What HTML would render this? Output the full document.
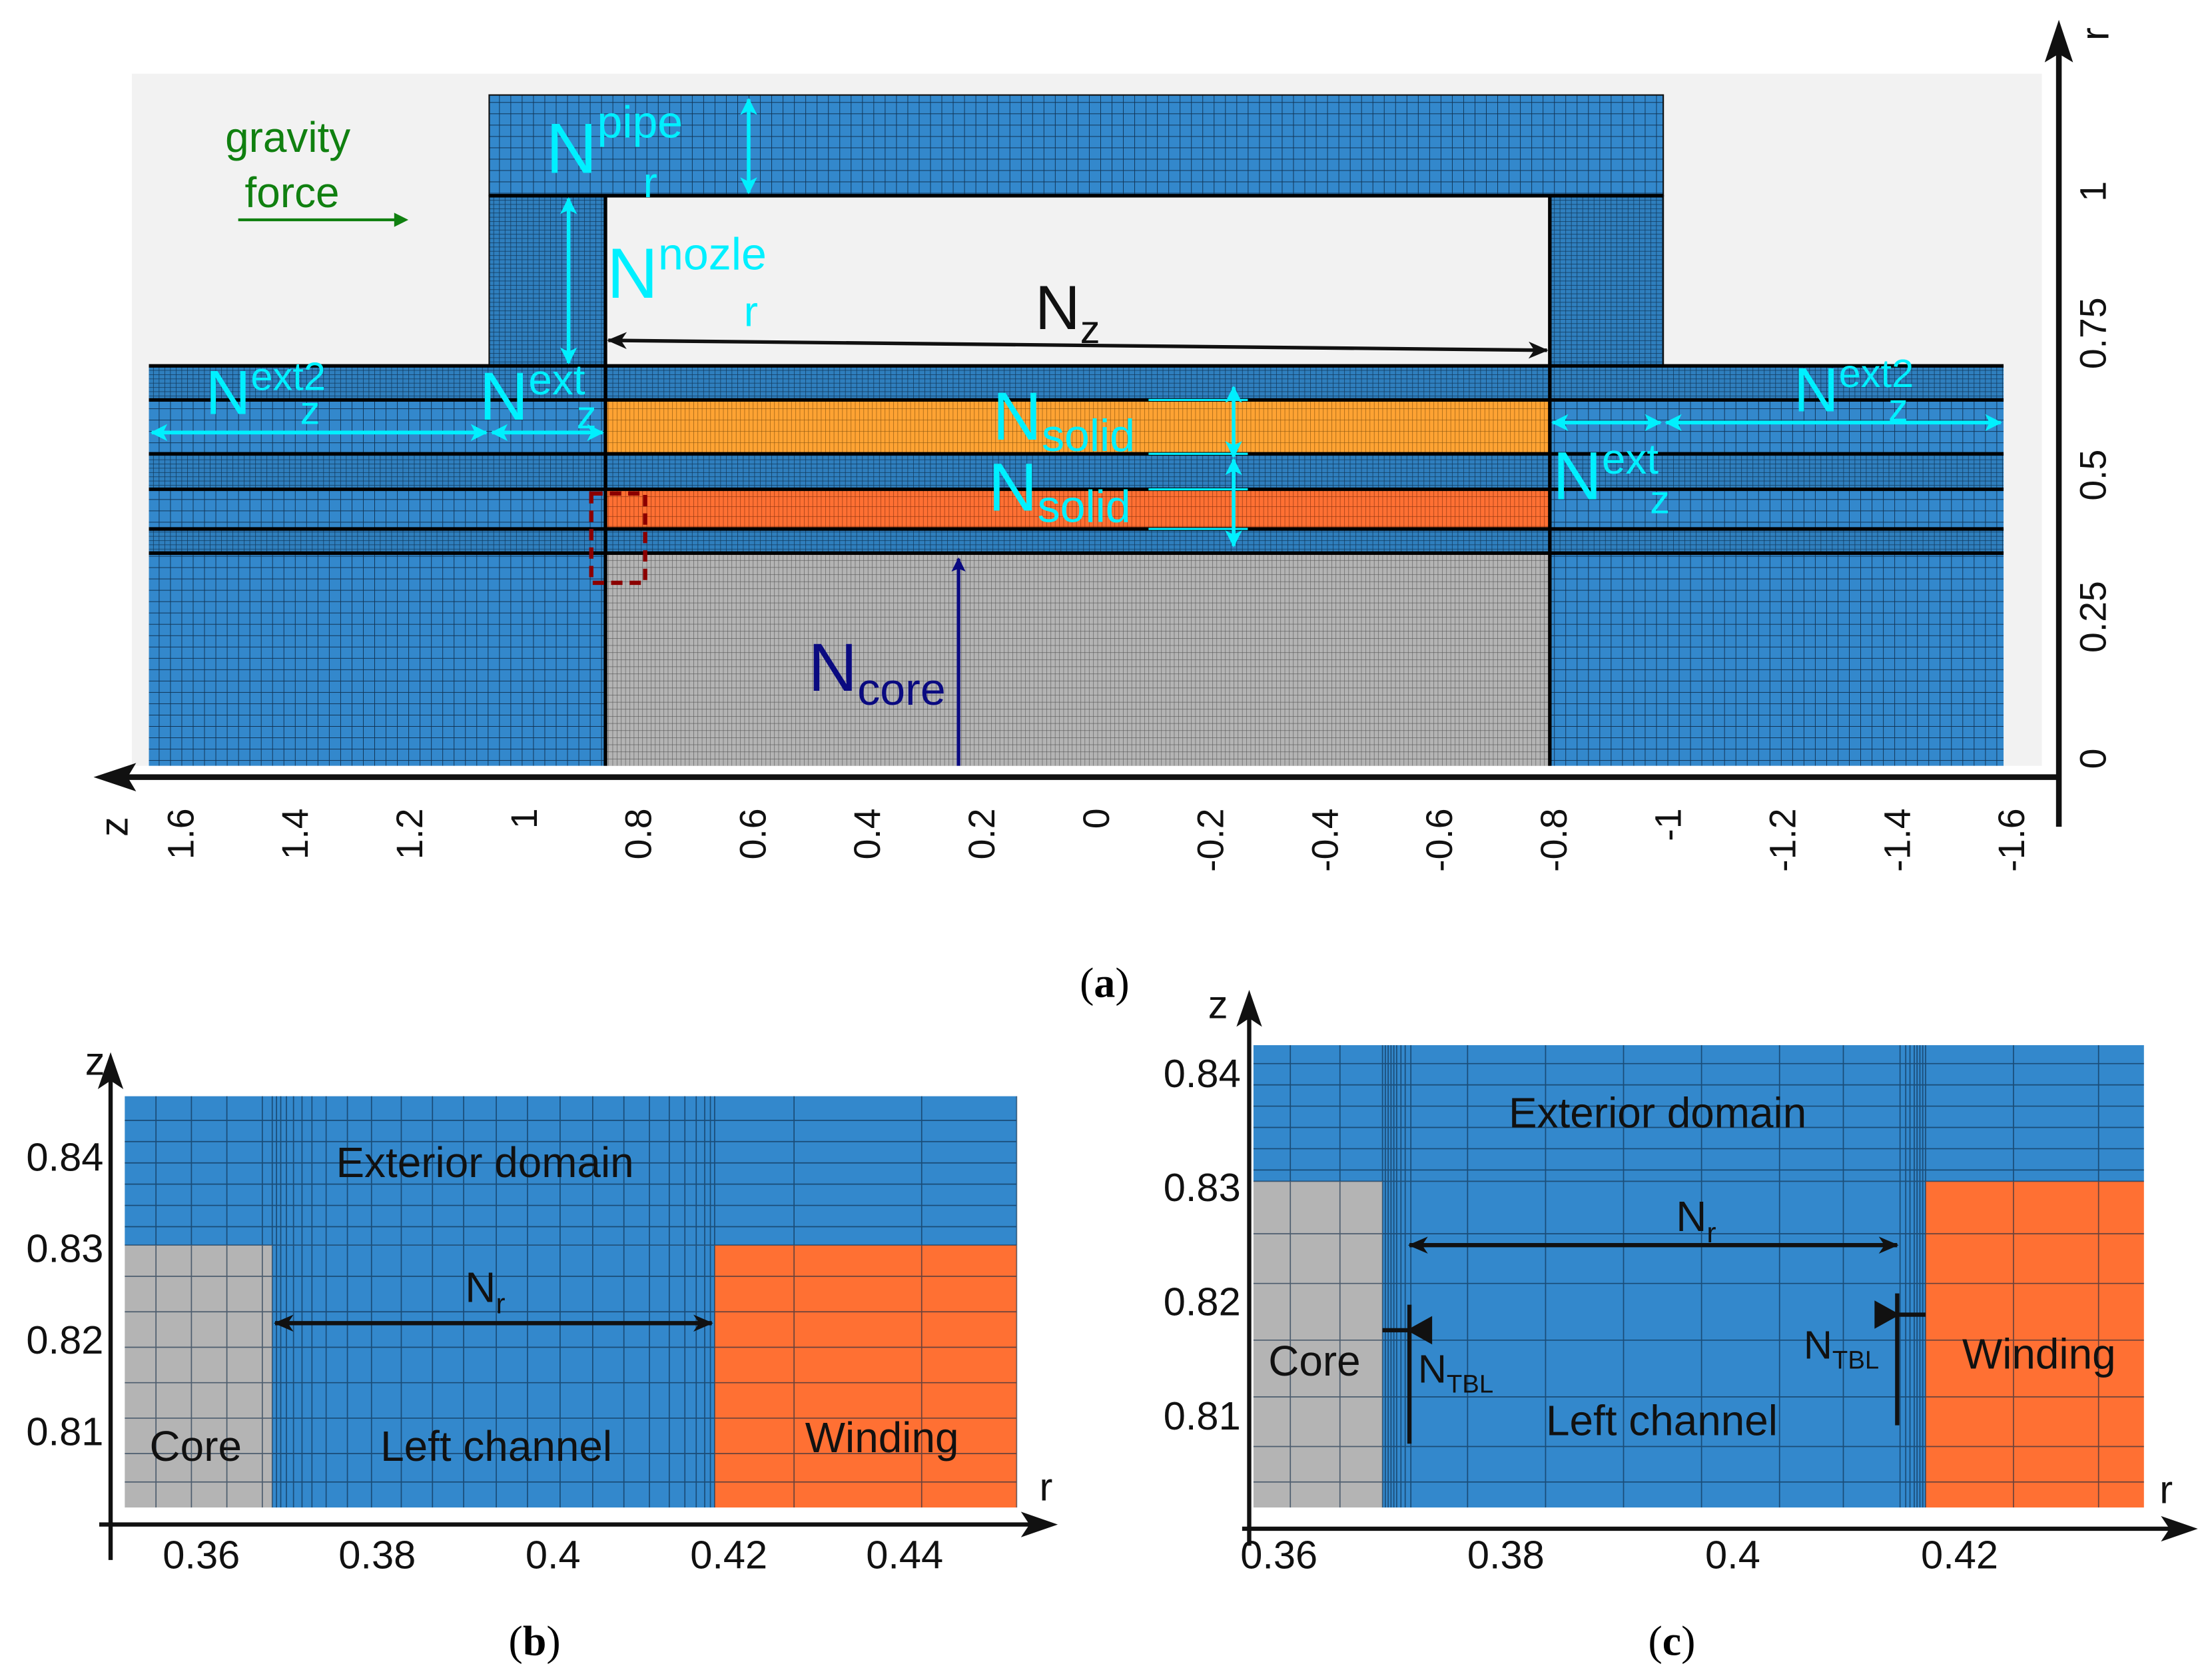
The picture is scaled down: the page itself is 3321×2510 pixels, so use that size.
<!DOCTYPE html>
<html><head><meta charset="utf-8"><style>
html,body{margin:0;padding:0;background:#fff;}
svg{display:block;font-family:"Liberation Sans","DejaVu Sans",sans-serif;}
</style></head><body>
<svg id="fig" width="3321" height="2510" viewBox="0 0 1560 1179" preserveAspectRatio="none" xmlns="http://www.w3.org/2000/svg">
<defs>
<pattern id="pBlue" width="8" height="8" patternUnits="userSpaceOnUse"><rect width="8" height="8" fill="#3388cc"/><path d="M0 0V8M0 0H8" stroke="#0a2540" stroke-width="0.9" opacity="0.85"/></pattern>
<pattern id="pBlueD" width="4" height="3" patternUnits="userSpaceOnUse"><rect width="4" height="3" fill="#2f7fbe"/><path d="M0 0V3M0 0H4" stroke="#0a2540" stroke-width="0.7" opacity="0.8"/></pattern>
<pattern id="pGrey" width="3" height="5" patternUnits="userSpaceOnUse"><rect width="3" height="5" fill="#b4b4b4"/><path d="M0 0V5M0 0H3" stroke="#333" stroke-width="0.55" opacity="0.75"/></pattern>
<pattern id="pOr" width="3" height="8" patternUnits="userSpaceOnUse"><rect width="3" height="8" fill="#ffa333"/><path d="M0 0V8M0 0H3" stroke="#553300" stroke-width="0.6" opacity="0.7"/></pattern>
<pattern id="pRed" width="3" height="7" patternUnits="userSpaceOnUse"><rect width="3" height="7" fill="#ff7033"/><path d="M0 0V7M0 0H3" stroke="#551800" stroke-width="0.6" opacity="0.7"/></pattern>
<marker id="ahc" markerWidth="12" markerHeight="12" refX="11" refY="6" orient="auto-start-reverse" markerUnits="userSpaceOnUse" viewBox="0 0 12 12"><path d="M0 0L12 6L0 12L3 6Z" fill="#00f0ff"/></marker>
<marker id="ahk" markerWidth="14" markerHeight="12" refX="13" refY="6" orient="auto-start-reverse" markerUnits="userSpaceOnUse" viewBox="0 0 14 12"><path d="M0 0L14 6L0 12L4 6Z" fill="#111"/></marker>
<marker id="ahn" markerWidth="10" markerHeight="14" refX="9" refY="5" orient="auto" markerUnits="userSpaceOnUse" viewBox="0 0 10 10"><path d="M0 0L10 5L0 10L2 5Z" fill="#0a0a80"/></marker>
</defs>

<!-- Panel (a) -->
<g>
<rect x="93" y="52" width="1347" height="488" fill="#f2f2f2"/>
<rect x="345" y="67" width="828" height="71" fill="url(#pBlue)" stroke="#111" stroke-width="1"/>
<rect x="345" y="138" width="82" height="120" fill="url(#pBlueD)" stroke="#111" stroke-width="1"/>
<rect x="1093" y="138" width="80" height="120" fill="url(#pBlueD)" stroke="#111" stroke-width="1"/>
<rect x="105" y="258" width="322" height="282" fill="url(#pBlue)"/>
<rect x="1093" y="258" width="320" height="282" fill="url(#pBlue)"/>
<rect x="105" y="258" width="1308" height="24" fill="url(#pBlueD)"/>
<rect x="105" y="320" width="1308" height="25" fill="url(#pBlueD)"/>
<rect x="105" y="373" width="1308" height="17" fill="url(#pBlueD)"/>
<rect x="427" y="282" width="666" height="38" fill="url(#pOr)"/>
<rect x="427" y="345" width="666" height="28" fill="url(#pRed)"/>
<rect x="427" y="390" width="666" height="150" fill="url(#pGrey)"/>
<g stroke="#000" stroke-width="2.5">
<path d="M105 258H1413M105 282H1413M105 320H1413M105 345H1413M105 373H1413M105 390H1413M427 138V540M1093 138V540M345 138H1173"/>
</g>
<rect x="417" y="348" width="38" height="63" fill="none" stroke="#8b0000" stroke-width="3" stroke-dasharray="8,5"/>

<text x="203" y="107" font-size="30" fill="#108010" text-anchor="middle">gravity</text>
<text x="206" y="146" font-size="30" fill="#108010" text-anchor="middle">force</text>
<line x1="168" y1="155" x2="280" y2="155" stroke="#108010" stroke-width="2"/>
<path d="M278 150L288 155L278 160Z" fill="#108010"/>

<g fill="#00f0ff">
<text x="385" y="122" font-size="50">N<tspan font-size="32" dy="-25">pipe</tspan><tspan font-size="30" dx="-28" dy="42">r</tspan></text>
<text x="428" y="210" font-size="50">N<tspan font-size="32" dy="-20">nozle</tspan><tspan font-size="30" dx="-16" dy="40">r</tspan></text>
<text x="145" y="292" font-size="44">N<tspan font-size="28" dy="-17">ext2</tspan><tspan font-size="28" dx="-18" dy="24">z</tspan></text>
<text x="338" y="296" font-size="48">N<tspan font-size="30" dy="-18">ext</tspan><tspan font-size="28" dx="-6" dy="24">z</tspan></text>
<text x="1265" y="290" font-size="44">N<tspan font-size="28" dy="-17">ext2</tspan><tspan font-size="28" dx="-18" dy="24">z</tspan></text>
<text x="1095" y="352" font-size="48">N<tspan font-size="30" dy="-18">ext</tspan><tspan font-size="28" dx="-6" dy="28">z</tspan></text>
<text x="700" y="310" font-size="48">N<tspan font-size="32" dy="8">solid</tspan></text>
<text x="697" y="360" font-size="48">N<tspan font-size="32" dy="8">solid</tspan></text>
</g>
<g stroke="#00f0ff" stroke-width="2.6" fill="none">
<line x1="528" y1="70" x2="528" y2="136" marker-start="url(#ahc)" marker-end="url(#ahc)"/>
<line x1="401" y1="140" x2="401" y2="256" marker-start="url(#ahc)" marker-end="url(#ahc)"/>
<line x1="107" y1="305" x2="343" y2="305" marker-start="url(#ahc)" marker-end="url(#ahc)"/>
<line x1="347" y1="305" x2="425" y2="305" marker-start="url(#ahc)" marker-end="url(#ahc)"/>
<line x1="1095" y1="298" x2="1171" y2="298" marker-start="url(#ahc)" marker-end="url(#ahc)"/>
<line x1="1175" y1="298" x2="1411" y2="298" marker-start="url(#ahc)" marker-end="url(#ahc)"/>
<line x1="870" y1="273" x2="870" y2="322" marker-start="url(#ahc)" marker-end="url(#ahc)"/>
<line x1="870" y1="324" x2="870" y2="385" marker-start="url(#ahc)" marker-end="url(#ahc)"/>
<path d="M810 282H880M810 320H880M810 345H880M810 373H880" stroke-width="1.5"/>
</g>
<line x1="429" y1="240" x2="1091" y2="247" stroke="#111" stroke-width="2.5" marker-start="url(#ahk)" marker-end="url(#ahk)"/>
<text x="730" y="232" font-size="44" fill="#111">N<tspan font-size="28" dy="10">z</tspan></text>
<line x1="676" y1="540" x2="676" y2="394" stroke="#0a0a80" stroke-width="2.5" marker-end="url(#ahn)"/>
<text x="570" y="487" font-size="48" fill="#0a0a80">N<tspan font-size="32" dy="10">core</tspan></text>

<line x1="1452" y1="548" x2="75" y2="548" stroke="#111" stroke-width="4"/>
<path d="M66 548L96 538L90 548L96 558Z" fill="#111"/>
<line x1="1452" y1="583" x2="1452" y2="25" stroke="#111" stroke-width="4"/>
<path d="M1452 14L1462 44L1452 38L1442 44Z" fill="#111"/>
<text transform="translate(90,583) rotate(-90)" font-size="28" fill="#111" text-anchor="middle">z</text>
<text transform="translate(1487,24) rotate(-90)" font-size="28" fill="#111" text-anchor="middle">r</text>
<g id="aTicks"></g>
<text x="779" y="703" font-size="30" font-family="Liberation Serif, serif" text-anchor="middle">(<tspan font-weight="bold">a</tspan>)</text>
</g>

<!-- Panel (b) -->
<g>
<rect x="88" y="773" width="629" height="105" fill="#3388cc"/>
<rect x="88" y="878" width="104" height="185" fill="#b4b4b4"/>
<rect x="192" y="878" width="312" height="185" fill="#3388cc"/>
<rect x="504" y="878" width="213" height="185" fill="#ff7033"/>
<g id="bGrid" stroke="#0a2540" stroke-width="0.8" opacity="0.6"></g>
<text x="342" y="830" font-size="30" text-anchor="middle" fill="#111">Exterior domain</text>
<text x="328" y="918" font-size="30" fill="#111">N<tspan font-size="20" dy="8">r</tspan></text>
<line x1="194" y1="933" x2="502" y2="933" stroke="#111" stroke-width="3" marker-start="url(#ahk)" marker-end="url(#ahk)"/>
<text x="138" y="1030" font-size="30" text-anchor="middle" fill="#111">Core</text>
<text x="350" y="1030" font-size="30" text-anchor="middle" fill="#111">Left channel</text>
<text x="622" y="1024" font-size="30" text-anchor="middle" fill="#111">Winding</text>
<line x1="70" y1="1075" x2="735" y2="1075" stroke="#111" stroke-width="3"/>
<path d="M746 1075L720 1066L726 1075L720 1084Z" fill="#111"/>
<line x1="78" y1="1100" x2="78" y2="752" stroke="#111" stroke-width="3"/>
<path d="M78 742L69 768L78 762L87 768Z" fill="#111"/>
<text x="60" y="758" font-size="28" fill="#111">z</text>
<text x="733" y="1058" font-size="28" fill="#111">r</text>
<g id="bTicks"></g>
<text x="377" y="1167" font-size="30" font-family="Liberation Serif, serif" text-anchor="middle">(<tspan font-weight="bold">b</tspan>)</text>
</g>

<!-- Panel (c) -->
<g>
<rect x="884" y="737" width="628" height="96" fill="#3388cc"/>
<rect x="884" y="833" width="91" height="230" fill="#b4b4b4"/>
<rect x="975" y="833" width="383" height="230" fill="#3388cc"/>
<rect x="1358" y="833" width="154" height="230" fill="#ff7033"/>
<g id="cGrid" stroke="#0a2540" stroke-width="0.8" opacity="0.6"></g>
<text x="1169" y="795" font-size="30" text-anchor="middle" fill="#111">Exterior domain</text>
<text x="1182" y="868" font-size="30" fill="#111">N<tspan font-size="20" dy="8">r</tspan></text>
<line x1="994" y1="878" x2="1338" y2="878" stroke="#111" stroke-width="3" marker-start="url(#ahk)" marker-end="url(#ahk)"/>
<g stroke="#111" stroke-width="3">
<path d="M975 938H996M994 920V1018M1358 927H1336M1338 912V1005"/>
</g>
<path d="M1010 928L992 938L1010 948Z M1322 917L1340 927L1322 937Z" fill="#111"/>
<text x="927" y="970" font-size="30" text-anchor="middle" fill="#111">Core</text>
<text x="1000" y="975" font-size="28" fill="#111">N<tspan font-size="18" dy="7">TBL</tspan></text>
<text x="1272" y="958" font-size="28" fill="#111">N<tspan font-size="18" dy="7">TBL</tspan></text>
<text x="1172" y="1012" font-size="30" text-anchor="middle" fill="#111">Left channel</text>
<text x="1438" y="965" font-size="30" text-anchor="middle" fill="#111">Winding</text>
<line x1="876" y1="1078" x2="1540" y2="1078" stroke="#111" stroke-width="3"/>
<path d="M1550 1078L1524 1069L1530 1078L1524 1087Z" fill="#111"/>
<line x1="881" y1="1090" x2="881" y2="708" stroke="#111" stroke-width="3"/>
<path d="M881 698L872 724L881 718L890 724Z" fill="#111"/>
<text x="852" y="718" font-size="28" fill="#111">z</text>
<text x="1523" y="1060" font-size="28" fill="#111">r</text>
<g id="cTicks"></g>
<text x="1179" y="1167" font-size="30" font-family="Liberation Serif, serif" text-anchor="middle">(<tspan font-weight="bold">c</tspan>)</text>
</g>
</svg>
<script>
const zTickValues = [1.6,1.4,1.2,1,0.8,0.6,0.4,0.2,0,-0.2,-0.4,-0.6,-0.8,-1,-1.2,-1.4,-1.6];
const rTickValues = [0,0.25,0.5,0.75,1];
const bXTicks = [0.36,0.38,0.4,0.42,0.44];
const bYTicks = [0.81,0.82,0.83,0.84];
const cXTicks = [0.36,0.38,0.4,0.42];
const cYTicks = [0.81,0.82,0.83,0.84];
const NS = 'http://www.w3.org/2000/svg';
function txt(parent, x, y, s, attrs){
  const t = document.createElementNS(NS,'text');
  t.setAttribute('x',x); t.setAttribute('y',y);
  for (const k in attrs) t.setAttribute(k, attrs[k]);
  t.textContent = s; parent.appendChild(t); return t;
}
function fmt(v){ return String(v); }
const zScale = v => 773 - 403.5*v;
const rScale = v => 535 - 400*v;
const aT = document.getElementById('aTicks');
zTickValues.forEach(v=>{
  const x = zScale(v);
  const t = txt(aT, 0, 0, fmt(v), {'font-size':26,'fill':'#111','text-anchor':'end','transform':`translate(${x+9},570) rotate(-90)`});
  
  
});
rTickValues.forEach(v=>{
  const y = rScale(v);
  const t = txt(aT, 0, 0, fmt(v), {'font-size':26,'fill':'#111','text-anchor':'middle','transform':`translate(1485,${y}) rotate(-90)`});
  
  
});
const bx = v => 390 + (v-0.4)*6200;
const by = v => 880 - (v-0.83)*6450;
const bT = document.getElementById('bTicks');
bXTicks.forEach(v=>{
  const t = txt(bT, bx(v), 1106, fmt(v), {'font-size':28,'fill':'#111','text-anchor':'middle'});
  
  
});
bYTicks.forEach(v=>{
  const t = txt(bT, 73, by(v)+10, fmt(v), {'font-size':28,'fill':'#111','text-anchor':'end'});
  
  
});
const cx = v => 1222 + (v-0.4)*8000;
const cy = v => 837 - (v-0.83)*8050;
const cT = document.getElementById('cTicks');
cXTicks.forEach(v=>{
  const t = txt(cT, cx(v), 1106, fmt(v), {'font-size':28,'fill':'#111','text-anchor':'middle'});
  
  
});
cYTicks.forEach(v=>{
  const t = txt(cT, 875, cy(v)+10, fmt(v), {'font-size':28,'fill':'#111','text-anchor':'end'});
  
  
});
function line(g,x1,y1,x2,y2){const l=document.createElementNS(NS,'line');l.setAttribute('x1',x1);l.setAttribute('y1',y1);l.setAttribute('x2',x2);l.setAttribute('y2',y2);g.appendChild(l);}
const bG = document.getElementById('bGrid');
[110,135,160,185].forEach(x=>line(bG,x,773,x,1063));
[192,195,198,202,207,213,220,230,245,262,283,305,327,350,372,395,418,440,458,472,483,491,497,501,504].forEach(x=>line(bG,x,773,x,1063));
[560,650,717].forEach(x=>line(bG,x,773,x,1063));
[790,805,820,835,850,865,878,900,925,950,975,1000,1025,1045].forEach(y=>line(bG,88,y,717,y));
const cG = document.getElementById('cGrid');
[910,945].forEach(x=>line(cG,x,737,x,1063));
[975,977,979,981,983,985,988,991,995,1035,1090,1145,1200,1255,1300,1340,1344,1347,1350,1352,1354,1356,1358].forEach(x=>line(cG,x,737,x,1063));
[1420,1480].forEach(x=>line(cG,x,737,x,1063));
[750,765,780,795,810,825,833,870,905,945,985,1020,1045].forEach(y=>line(cG,884,y,1512,y));
</script>
</body></html>
